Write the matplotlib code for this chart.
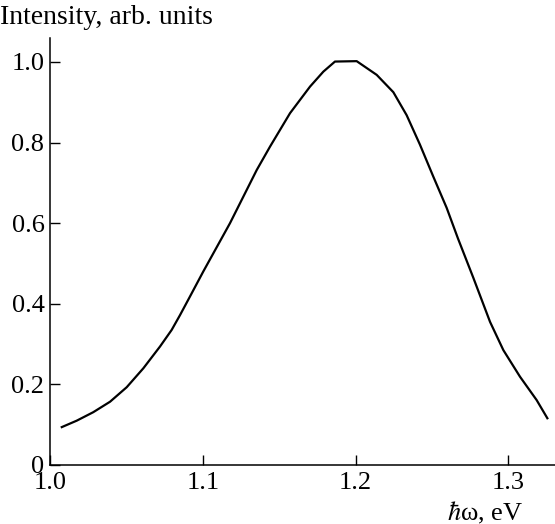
import matplotlib
matplotlib.use("Agg")
import matplotlib.pyplot as plt

plt.rcParams['font.family'] = ['Liberation Serif', 'DejaVu Serif']
plt.rcParams['mathtext.fontset'] = 'stix'

# photon energy (eV) and normalized intensity
energy = [1.0077, 1.0175, 1.0283, 1.0393, 1.0502, 1.0611, 1.0720, 1.0796,
          1.0851, 1.0916, 1.1003, 1.1178, 1.1353, 1.1440, 1.1571, 1.1702,
          1.1789, 1.1865, 1.2007, 1.2138, 1.2247, 1.2334, 1.2421, 1.2508,
          1.2596, 1.2670, 1.2770, 1.2880, 1.2967, 1.3076, 1.3185, 1.3255]
intensity = [0.094, 0.110, 0.131, 0.157, 0.193, 0.240, 0.294, 0.335,
             0.372, 0.418, 0.480, 0.600, 0.732, 0.790, 0.873, 0.939,
             0.976, 1.001, 1.002, 0.968, 0.925, 0.868, 0.795, 0.716,
             0.638, 0.562, 0.465, 0.355, 0.285, 0.219, 0.161, 0.116]

xticks = [1.0, 1.1, 1.2, 1.3]
xticklabels = ['1.0', '1.1', '1.2', '1.3']
yticks = [0, 0.2, 0.4, 0.6, 0.8, 1.0]
yticklabels = ['0', '0.2', '0.4', '0.6', '0.8', '1.0']

fig = plt.figure(figsize=(5.55, 5.24), dpi=100)
ax = fig.add_axes([0.0901, 0.1126, 0.9099, 0.815])

ax.plot(energy, intensity, color='black', lw=1.6)

ax.set_xlim(1.0, 1.3305)
ax.set_ylim(0, 1.0596)
ax.set_xticks(xticks)
ax.set_xticklabels(xticklabels)
ax.set_yticks(yticks)
ax.set_yticklabels(yticklabels)

for s in ['top', 'right']:
    ax.spines[s].set_visible(False)
for s in ['left', 'bottom']:
    ax.spines[s].set_linewidth(1.1)

ax.tick_params(direction='in', length=7, width=1, labelsize=19)
ax.tick_params(axis='x', pad=5)
ax.tick_params(axis='y', pad=4)

fig.text(0.0, 0.966, 'Intensity, arb. units', fontsize=20, ha='left', va='center')
fig.text(0.943, 0.022, r'$\hbar$ω, eV', fontsize=19, ha='right', va='center')

fig.savefig('out.png', dpi=100)
